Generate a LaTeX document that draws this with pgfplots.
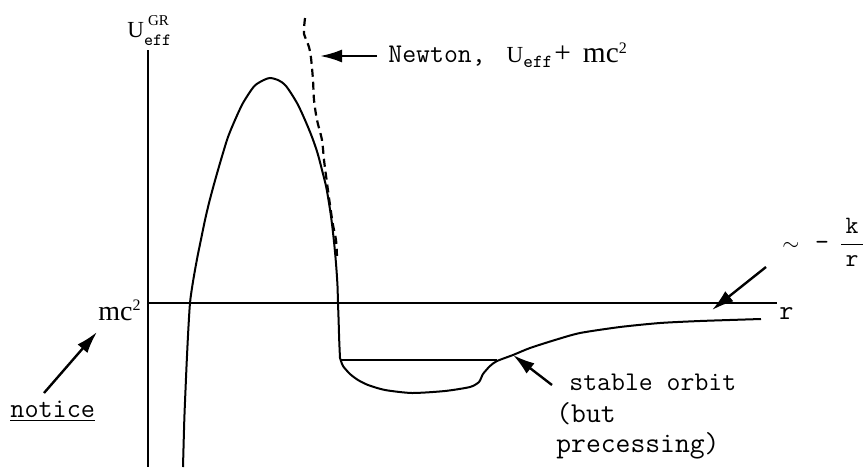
\documentclass[border=0pt]{standalone}
\usepackage{pgfplots}
\pgfplotsset{compat=1.18}
\usepackage{fontspec}
\setmainfont{Liberation Serif}
\usetikzlibrary{arrows.meta}
\begin{document}
\begin{tikzpicture}
\begin{axis}[scale only axis, width=431.5pt, height=233.5pt,
  xmin=0, xmax=863, ymin=0, ymax=467, y dir=reverse, hide axis, clip=false]
% axes
\addplot[black, line width=1pt] coordinates {(148,50) (148,467)};
\addplot[black, line width=1pt] coordinates {(148,303) (777,303)};
% GR effective potential: barrier part
\addplot[black, line width=1pt, smooth] coordinates {
 (183,467) (184.3,420) (185.5,390) (186.8,360) (188.3,330) (190,303)
 (192.3,286) (195,270) (198,254) (201.5,237) (205,220) (209,203) (213.5,186)
 (218,170) (223,153) (228,137) (235,120) (243,103) (253.5,87) (260,82) (265,79.5)
 (270,78) (278,80) (286,86) (297,103) (305,120) (312,137) (317.5,153) (322,170)
 (326,186) (329,203) (331.5,220) (333.5,237) (335.2,254) (336.5,270) (337.5,286)
 (338,303) (338.6,320) (339.2,340) (340,358)};
% well and tail
\addplot[black, line width=1pt, smooth, tension=0.4] coordinates {
 (340,358) (343,366) (350,374) (358,380) (368,385) (385,390) (412,393) (445,391)
 (470,387) (479,382) (483,374) (490,366) (497,361) (513,355) (530,348) (555,340)
 (580,333) (620,327) (660,323) (700,321) (761,319)};
% energy level
\addplot[black, line width=0.8pt] coordinates {(340,360) (497,360)};
% Newton curve (dashed)
\addplot[black, line width=1.1pt, dash pattern=on 4pt off 2.5pt, smooth] coordinates {
 (305,18) (304,28) (304,34) (309,47) (311,58) (313,80) (314,100) (317,120) (322,140)
 (324,160) (327,183) (330,205) (333,225) (336,240) (337,256)};
% arrows
\draw[-{Latex[length=11pt,width=6.5pt]}, line width=1.2pt] (377,56) -- (320,56);
\draw[-{Latex[length=11pt,width=6.5pt]}, line width=1.2pt] (44,393) -- (97,332);
\draw[-{Latex[length=11pt,width=6.5pt]}, line width=1.2pt] (552,385) -- (513,355);
\draw[-{Latex[length=11pt,width=6.5pt]}, line width=1.2pt] (766,267) -- (712,310);
% labels
\node[anchor=base west, inner sep=0] at (127,37)
 {\fontsize{11.5}{13}\selectfont U\rlap{\raisebox{6pt}{\hspace{2pt}\fontsize{7.5}{9}\selectfont GR}}\raisebox{-4pt}{\ttfamily\fontsize{8.6}{10}\selectfont eff}};
\node[anchor=base west, inner sep=0] at (388,62)
 {\ttfamily\fontsize{13.5}{16}\selectfont Newton,\hspace{10.5pt}{\rmfamily\fontsize{11.5}{13}\selectfont U}\raisebox{-2.5pt}{\fontsize{9.2}{10}\selectfont eff}\hspace{1pt}{\rmfamily\fontsize{14.7}{16}\selectfont +\hspace{6pt}mc\raisebox{4.5pt}{\fontsize{8}{9}\selectfont 2}}};
\node[anchor=base west, inner sep=0] at (98,320)
 {\fontsize{14}{16}\selectfont mc\raisebox{5pt}{\fontsize{8}{9}\selectfont 2}};
\node[anchor=base west, inner sep=0] at (10,417)
 {\ttfamily\fontsize{13.7}{16}\selectfont\underline{notice}};
\node[anchor=base west, inner sep=0] at (779,319)
 {\ttfamily\fontsize{13.7}{16}\selectfont r};
\node[anchor=base west, inner sep=0] at (569,390)
 {\ttfamily\fontsize{13.5}{16}\selectfont stable orbit};
\node[anchor=base west, inner sep=0] at (556,422)
 {\ttfamily\fontsize{14.4}{18}\selectfont (but};
\node[anchor=base west, inner sep=0] at (556,452)
 {\ttfamily\fontsize{14.4}{18}\selectfont precessing)};
\node[anchor=base] at (791,250) {\fontsize{11}{13}\selectfont$\sim$};
\node[anchor=base] at (822,250) {\ttfamily\fontsize{13.5}{16}\selectfont\textendash};
\node[anchor=base, inner sep=0] at (852,250)
 {\fontsize{12.5}{14}\selectfont$\displaystyle\frac{\mbox{\ttfamily\,k\,}}{\mbox{\ttfamily r}}$};
\end{axis}
\pgfresetboundingbox
\useasboundingbox (current axis.south west) rectangle (current axis.north east);
\end{tikzpicture}
\end{document}
